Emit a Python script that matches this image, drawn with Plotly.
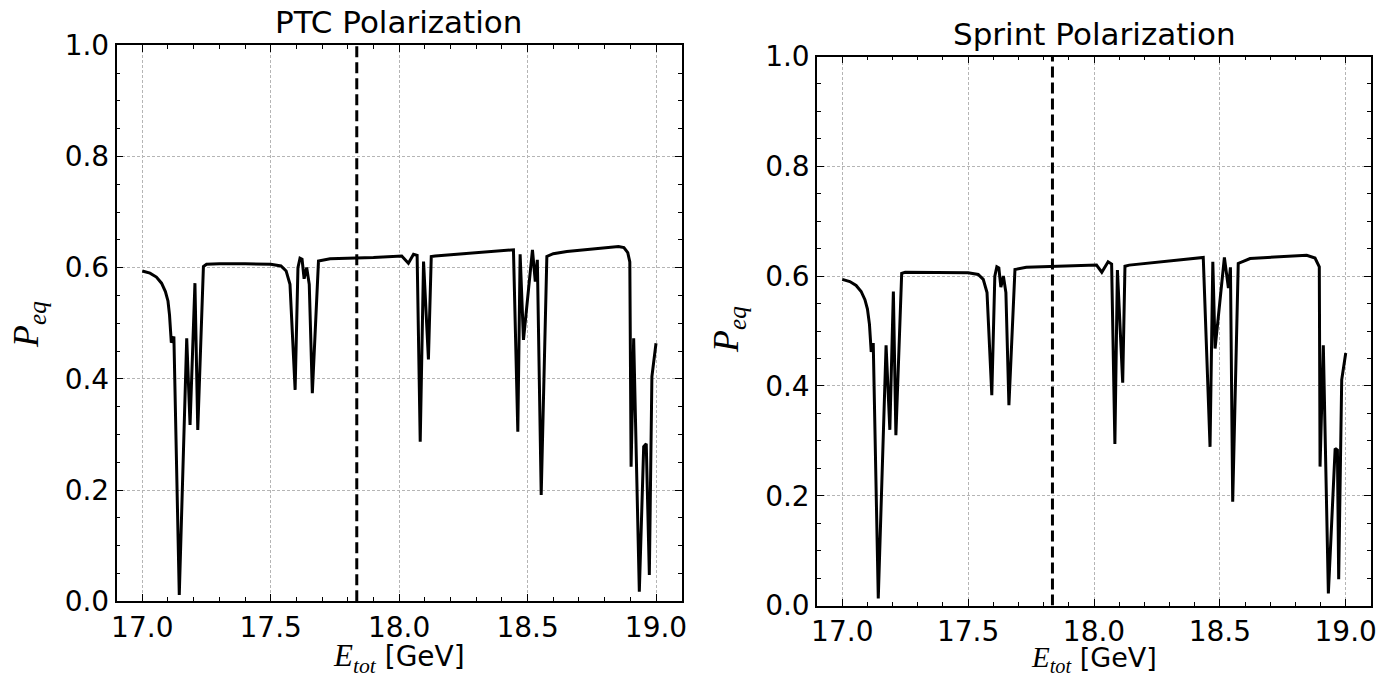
import plotly.graph_objects as go

# ---------------- data ----------------
ptc_energy = [17.000, 17.030, 17.055, 17.075, 17.090, 17.100, 17.106, 17.110, 17.113, 17.118, 17.123,
              17.144, 17.173, 17.186, 17.205, 17.216, 17.238, 17.250, 17.300, 17.400, 17.500,
              17.540, 17.560, 17.575, 17.595, 17.606, 17.614, 17.622, 17.630, 17.640, 17.650,
              17.662, 17.686, 17.731, 17.900, 18.010, 18.036, 18.056, 18.070, 18.082, 18.095,
              18.114, 18.125, 18.140, 18.445, 18.462, 18.471, 18.484, 18.519, 18.530, 18.538,
              18.553, 18.575, 18.600, 18.653, 18.854, 18.875, 18.890, 18.898, 18.903, 18.913,
              18.935, 18.952, 18.962, 18.974, 18.984, 19.000]
ptc_pol = [0.594, 0.590, 0.583, 0.572, 0.557, 0.540, 0.515, 0.478, 0.465, 0.470, 0.476,
           0.011, 0.473, 0.317, 0.572, 0.308, 0.602, 0.606, 0.607, 0.607, 0.606,
           0.603, 0.594, 0.570, 0.380, 0.600, 0.617, 0.615, 0.580, 0.600, 0.570,
           0.374, 0.612, 0.616, 0.618, 0.621, 0.608, 0.624, 0.622, 0.287, 0.611,
           0.435, 0.620, 0.621, 0.632, 0.305, 0.624, 0.470, 0.632, 0.575, 0.614,
           0.191, 0.620, 0.625, 0.629, 0.638, 0.636, 0.627, 0.610, 0.242, 0.473,
           0.017, 0.278, 0.283, 0.047, 0.404, 0.464]

sprint_energy = [17.000, 17.030, 17.055, 17.075, 17.090, 17.100, 17.108, 17.112, 17.115, 17.119, 17.123,
                 17.143, 17.174, 17.189, 17.203, 17.213, 17.236, 17.250, 17.300, 17.400, 17.500,
                 17.540, 17.560, 17.575, 17.594, 17.606, 17.614, 17.622, 17.630, 17.640, 17.650,
                 17.662, 17.686, 17.731, 17.900, 18.010, 18.031, 18.056, 18.070, 18.083, 18.093,
                 18.114, 18.123, 18.140, 18.434, 18.461, 18.472, 18.481, 18.518, 18.534, 18.542,
                 18.551, 18.573, 18.620, 18.845, 18.878, 18.895, 18.898, 18.911, 18.931, 18.958,
                 18.967, 18.972, 18.984, 19.000]
sprint_pol = [0.594, 0.590, 0.583, 0.572, 0.557, 0.540, 0.512, 0.478, 0.462, 0.470, 0.478,
              0.013, 0.474, 0.320, 0.572, 0.310, 0.605, 0.607, 0.607, 0.607, 0.606,
              0.603, 0.594, 0.570, 0.383, 0.600, 0.617, 0.615, 0.580, 0.600, 0.570,
              0.365, 0.612, 0.616, 0.618, 0.620, 0.607, 0.626, 0.622, 0.294, 0.611,
              0.406, 0.618, 0.620, 0.634, 0.289, 0.626, 0.468, 0.634, 0.578, 0.616,
              0.189, 0.623, 0.632, 0.638, 0.633, 0.617, 0.253, 0.474, 0.022, 0.286,
              0.283, 0.048, 0.411, 0.460]

reference_energy = 17.835
panel_titles = ["PTC Polarization", "Sprint Polarization"]
x_ticks = [17.0, 17.5, 18.0, 18.5, 19.0]
y_ticks = [0.0, 0.2, 0.4, 0.6, 0.8, 1.0]

# ---------------- figure ----------------
W, H = 1378, 677
fig = go.Figure()

LINE_W = 3
for i, (ex, py) in enumerate([(ptc_energy, ptc_pol), (sprint_energy, sprint_pol)]):
    xa = "x" if i == 0 else "x2"
    ya = "y" if i == 0 else "y2"
    fig.add_trace(go.Scatter(x=ex, y=py, mode="lines", xaxis=xa, yaxis=ya,
                             line=dict(color="black", width=LINE_W), showlegend=False,
                             hoverinfo="skip"))
    fig.add_trace(go.Scatter(x=[reference_energy, reference_energy], y=[0, 1], mode="lines",
                             xaxis=xa, yaxis=ya, showlegend=False, hoverinfo="skip",
                             line=dict(color="black", width=3, dash="11px,5px")))

tickfont = dict(family="DejaVu Sans", size=28, color="black")

def xaxis_style(domain, anchor):
    return dict(domain=domain, anchor=anchor, range=[16.9, 19.1], automargin=False,
                ticklabeloverflow="allow",
                tickmode="array", tickvals=x_ticks, ticktext=[f"{v:.1f}" for v in x_ticks],
                ticks="inside", ticklen=7, tickwidth=1.3, tickcolor="black",
                mirror="allticks", showline=True, linecolor="black", linewidth=1.6,
                showgrid=True, gridcolor="#b5b5b5", gridwidth=1, griddash="3px,2px",
                zeroline=False, tickfont=tickfont,
                minor=dict(dtick=0.1, tick0=17.0, ticks="inside", ticklen=4, tickwidth=1.1,
                           tickcolor="black", showgrid=False))

def yaxis_style(domain, anchor):
    return dict(domain=domain, anchor=anchor, range=[0, 1], automargin=False,
                ticklabeloverflow="allow",
                tickmode="array", tickvals=y_ticks, ticktext=[f"{v:.1f}" for v in y_ticks],
                ticks="inside", ticklen=7, tickwidth=1.3, tickcolor="black",
                mirror="allticks", showline=True, linecolor="black", linewidth=1.6,
                showgrid=True, gridcolor="#b5b5b5", gridwidth=1, griddash="3px,2px",
                zeroline=False, tickfont=tickfont,
                minor=dict(dtick=0.05, tick0=0, ticks="inside", ticklen=4, tickwidth=1.1,
                           tickcolor="black", showgrid=False))

# pixel geometry of the two axes boxes
L1, R1, T1, B1 = 116.6, 681.7, 45.2, 601.2
L2, R2, T2, B2 = 817.1, 1370.9, 56.5, 605.5

fig.update_layout(
    width=W, height=H,
    margin=dict(l=0, r=0, t=0, b=0, autoexpand=False),
    paper_bgcolor="white", plot_bgcolor="white",
    xaxis=xaxis_style([L1 / W, R1 / W], "y"),
    yaxis=yaxis_style([1 - B1 / H, 1 - T1 / H], "x"),
    xaxis2=xaxis_style([L2 / W, R2 / W], "y2"),
    yaxis2=yaxis_style([1 - B2 / H, 1 - T2 / H], "x2"),
)

serif = "Liberation Serif"
xlabel = (f'<span style="font-family:{serif};font-size:31px"><i>E</i><sub><i>tot</i></sub></span> [GeV]')
xlabel_small = (f'<span style="font-family:{serif};font-size:29px"><i>E</i><sub><i>tot</i></sub></span> [GeV]')
ylabel = (f'<span style="font-family:{serif}"><i>P</i><sub><i>eq</i></sub></span>')

annots = []
title_font = dict(family="DejaVu Sans", size=31, color="black")
label_font = dict(family="DejaVu Sans", size=28, color="black")
# titles
annots.append(dict(text=panel_titles[0], x=(L1 + R1) / 2 / W, y=1 - 22 / H, xref="paper", yref="paper",
                   showarrow=False, font=title_font, xanchor="center", yanchor="middle"))
annots.append(dict(text=panel_titles[1], x=(L2 + R2) / 2 / W, y=1 - 34 / H, xref="paper", yref="paper",
                   showarrow=False, font=title_font, xanchor="center", yanchor="middle"))
# x labels
annots.append(dict(text=xlabel, x=(L1 + R1) / 2 / W, y=1 - 658 / H, xref="paper", yref="paper",
                   showarrow=False, font=label_font, xanchor="center", yanchor="middle"))
annots.append(dict(text=xlabel_small, x=(L2 + R2) / 2 / W, y=1 - 659 / H, xref="paper", yref="paper",
                   showarrow=False, font=dict(family="DejaVu Sans", size=27, color="black"),
                   xanchor="center", yanchor="middle"))
# y labels
annots.append(dict(text=ylabel, x=28 / W, y=1 - 325 / H, xref="paper", yref="paper", textangle=-90,
                   showarrow=False, font=dict(family=serif, size=36, color="black"),
                   xanchor="center", yanchor="middle"))
annots.append(dict(text=ylabel, x=728 / W, y=1 - 330 / H, xref="paper", yref="paper", textangle=-90,
                   showarrow=False, font=dict(family=serif, size=36, color="black"),
                   xanchor="center", yanchor="middle"))
fig.update_layout(annotations=annots)

fig.write_html("out.html", config={"displayModeBar": False},
               post_script="document.body.style.margin='0';document.body.style.overflow='hidden';")
